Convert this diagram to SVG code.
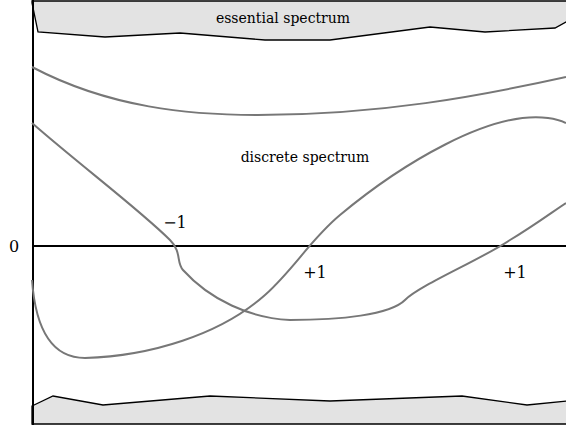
<svg xmlns="http://www.w3.org/2000/svg" width="566" height="426" viewBox="0 0 566 426">
<style>
text{font-family:"DejaVu Serif",serif;font-size:14px;fill:#000}
.num{font-size:16px}
.band{fill:#e3e3e3;stroke:#000;stroke-width:1.3}
.axis{stroke:#000;stroke-width:2;fill:none}
.curve{stroke:#777;stroke-width:2;fill:none}
</style>
<rect width="566" height="426" fill="#fff"/>
<g id="essential-top">
<polygon class="band" points="32,1 568,1 568,21 555,28 485,32 430,27 330,40 265,40 180,33 105,37 38,32 32,3"/>
<text x="283" y="23" text-anchor="middle">essential spectrum</text>
</g>
<g id="essential-bottom">
<polygon class="band" points="32,406 53,396 103,405 210,396 330,401 462,396 527,405 568,401 568,424 32,424"/>
</g>
<g id="axes">
<line class="axis" x1="33" y1="0" x2="33" y2="425"/>
<line class="axis" x1="32" y1="246" x2="566" y2="246"/>
<text class="num" x="14" y="252" text-anchor="middle">0</text>
</g>
<g id="connectors">
<path id="curve-a" class="curve" d="M32,67 C110,108 190,115 258,115 C380,115 480,96 566,77"/>
<path id="curve-b" class="curve" d="M32,123 C80,165 140,210 170,240 C182,252 176,262 183,270 C210,300 250,318 290,320 C340,320 390,315 405,300 C420,285 480,260 510,240 C535,225 555,210 566,203"/>
<path id="curve-c" class="curve" d="M32,280 C36,335 55,358 85,358 C150,356 220,335 265,295 C295,268 310,240 340,215 C400,165 490,110 548,118 C556,119 562,121 566,123"/>
</g>
<g id="label-discrete"><text x="305" y="162" text-anchor="middle">discrete spectrum</text></g>
<g id="label-m1"><text class="num" x="175" y="228" text-anchor="middle">−1</text></g>
<g id="label-p1a"><text class="num" x="315" y="278" text-anchor="middle">+1</text></g>
<g id="label-p1b"><text class="num" x="515" y="278" text-anchor="middle">+1</text></g>
</svg>
